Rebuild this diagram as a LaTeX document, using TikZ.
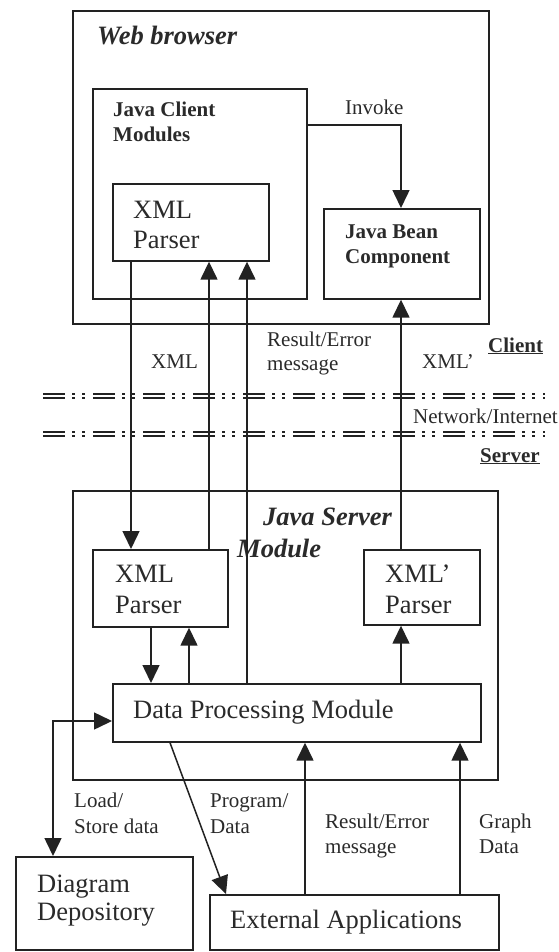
\documentclass[tikz,border=0pt]{standalone}
\usepackage{fontspec}
\setmainfont{Liberation Serif}
\usetikzlibrary{arrows.meta}
\definecolor{ink}{HTML}{222222}
\definecolor{txt}{HTML}{2A2A2A}
\begin{document}
\begin{tikzpicture}[x=1pt,y=-1pt,
  box/.style={draw=ink,line width=1.7pt,rectangle,inner sep=0pt,anchor=north west},
  lbl/.style={anchor=base west,inner sep=0pt,text=txt,align=left},
  big/.style={lbl,font=\fontsize{26.5}{30}\selectfont},
  small/.style={lbl,font=\fontsize{21}{25}\selectfont},
  bsmall/.style={lbl,font=\fontsize{21}{25}\selectfont\bfseries},
  bibig/.style={lbl,font=\fontsize{26.5}{32}\selectfont\bfseries\itshape},
  arr/.style={draw=ink,line width=1.5pt,-{Triangle[width=17pt,length=18pt]}},
  arrboth/.style={draw=ink,line width=1.5pt,{Triangle[width=17pt,length=18pt]}-{Triangle[width=17pt,length=18pt]}},
  netline/.style={draw=ink,line width=2.3pt,double=white,double distance=1.9pt,
    dash pattern=on 22pt off 7pt on 2.5pt off 7.5pt on 2.5pt off 8.5pt}
]
\useasboundingbox (0,0) rectangle (558,952);
\fill[white] (0,0) rectangle (558,952);

% network lines
\coordinate (na1) at (43,396);
\coordinate (na2) at (545,396);
\coordinate (nb1) at (43,434);
\coordinate (nb2) at (545,434);
\draw[netline] (na1) -- (na2);
\draw[netline] (nb1) -- (nb2);

% boxes
\node[box,minimum width=416pt,minimum height=313pt] (wb) at (72,10) {};
\node[box,minimum width=214pt,minimum height=210pt] (jcm) at (92,88) {};
\node[box,minimum width=156pt,minimum height=77pt] (cxp) at (112,183) {};
\node[box,minimum width=156pt,minimum height=90pt] (jbc) at (323,208) {};
\node[box,minimum width=425pt,minimum height=289pt] (srv) at (72,490) {};
\node[box,minimum width=135pt,minimum height=77pt] (sxp) at (92,549) {};
\node[box,minimum width=116pt,minimum height=75pt] (sxq) at (363,549) {};
\node[box,minimum width=368pt,minimum height=58pt] (dpm) at (112,683) {};
\node[box,minimum width=177pt,minimum height=93pt] (dd) at (15,856) {};
\node[box,minimum width=289pt,minimum height=55pt] (ext) at (209,894) {};

% texts (multi-line nodes: base = last line)
\node[bibig] (t-wb) at (97,45) {Web browser};
\node[bsmall] (t-jcm) at (113,142) {Java Client\\Modules};
\node[big] (t-cxp) at (133,248) {XML\\Parser};
\node[small] (t-inv) at (345,115) {Invoke};
\node[bsmall] (t-jbc) at (345,263) {Java Bean\\Component};
\node[small] (t-xml) at (151,368) {XML};
\node[small,font=\fontsize{21}{24}\selectfont] (t-res1) at (267,370) {Result/Error\\message};
\node[small] (t-xmlp) at (422,368) {XML'};
\node[bsmall] (t-cli) at (488,352) {\underline{Client}};
\node[small] (t-net) at (413,423) {Network/Internet};
\node[bsmall] (t-srv) at (480,462) {\underline{Server}};
\node[bibig] (t-jsm1) at (263,525) {Java Server};
\node[bibig] (t-jsm2) at (237,557) {Module};
\node[big,font=\fontsize{26.5}{31}\selectfont] (t-sxp) at (115,613) {XML\\Parser};
\node[big,font=\fontsize{26.5}{31}\selectfont] (t-sxq) at (385,613) {XML'\\Parser};
\node[big] (t-dpm) at (133,718) {Data Processing Module};
\node[small,font=\fontsize{21}{26}\selectfont] (t-load) at (74,833) {Load/\\Store data};
\node[small,font=\fontsize{21}{26}\selectfont] (t-prog) at (210,833) {Program/\\Data};
\node[small] (t-res2) at (325,853) {Result/Error\\message};
\node[small] (t-graph) at (479,853) {Graph\\Data};
\node[big,font=\fontsize{26.5}{28}\selectfont] (t-dd) at (37,920) {Diagram\\Depository};
\node[big] (t-ext) at (230,928) {External Applications};

% connectors
\draw[arr] ([yshift=-37pt]jcm.north east) -| ([xshift=78pt]jbc.north west);
\draw[arr] ([xshift=19pt]cxp.south west) -- ([xshift=19pt]cxp.south west |- sxp.north);
\draw[arr] ([xshift=117pt]sxp.north west) -- ([xshift=117pt]sxp.north west |- cxp.south);
\draw[arr] ([xshift=135pt]dpm.north west) -- ([xshift=135pt]dpm.north west |- cxp.south);
\draw[arr] ([xshift=38pt]sxq.north west) -- ([xshift=38pt]sxq.north west |- jbc.south);
\draw[arr] ([xshift=59pt]sxp.south west) -- ([xshift=59pt]sxp.south west |- dpm.north);
\draw[arr] ([xshift=77pt]dpm.north west) -- ([xshift=77pt]dpm.north west |- sxp.south);
\draw[arr] ([xshift=289pt]dpm.north west) -- ([xshift=289pt]dpm.north west |- sxq.south);
\draw[arrboth] ([yshift=-38pt]dpm.north west) -| ([xshift=38pt]dd.north west);
\draw[arr] ([xshift=58pt]dpm.south west) -- ([xshift=17pt]ext.north west);
\draw[arr] ([xshift=96pt]ext.north west) -- ([xshift=96pt]ext.north west |- dpm.south);
\draw[arr] ([xshift=251pt]ext.north west) -- ([xshift=251pt]ext.north west |- dpm.south);
\end{tikzpicture}
\end{document}
